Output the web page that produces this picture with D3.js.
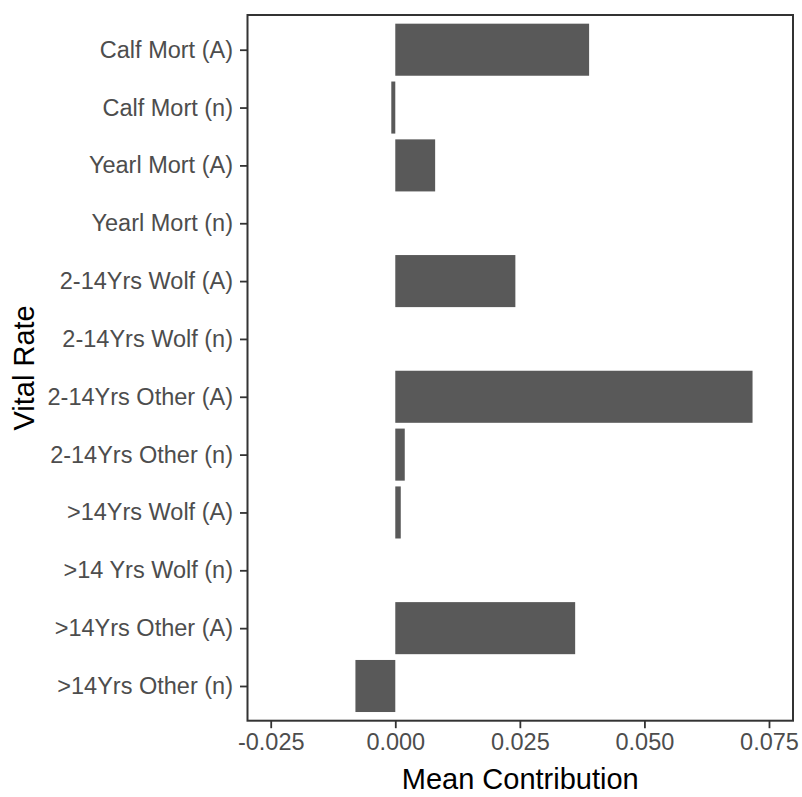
<!DOCTYPE html>
<html>
<head>
<meta charset="utf-8">
<script src="https://cdn.jsdelivr.net/npm/d3@7"></script>
<style>
  html, body { margin: 0; padding: 0; background: #fff; }
  svg { display: block; }
</style>
</head>
<body>
<script>
const categories = [
  "Calf Mort (A)", "Calf Mort (n)", "Yearl Mort (A)", "Yearl Mort (n)",
  "2-14Yrs Wolf (A)", "2-14Yrs Wolf (n)", "2-14Yrs Other (A)", "2-14Yrs Other (n)",
  ">14Yrs Wolf (A)", ">14 Yrs Wolf (n)", ">14Yrs Other (A)", ">14Yrs Other (n)"
];
const values = [
  0.0389, -0.0008, 0.0080, 0.0,
  0.0241, 0.0, 0.0717, 0.0019,
  0.0011, 0.0, 0.0361, -0.0080
];
const xTicks = [-0.025, 0.000, 0.025, 0.050, 0.075];
const xTickLabels = ["-0.025", "0.000", "0.025", "0.050", "0.075"];
const xTitle = "Mean Contribution";
const yTitle = "Vital Rate";

const W = 802, H = 797;
const panel = { left: 247.5, right: 793, top: 15, bottom: 720.7 };

const svg = d3.select("body").append("svg").attr("width", W).attr("height", H);

const x = d3.scaleLinear().domain([-0.02966, 0.07982]).range([panel.left, panel.right]);
const y = d3.scalePoint().domain(categories).range([panel.top, panel.bottom]).padding(0.6);
const barH = y.step() * 0.9;

// bars
svg.append("g").selectAll("rect").data(categories).join("rect")
  .attr("x", (d, i) => x(Math.min(0, values[i])))
  .attr("width", (d, i) => Math.abs(x(values[i]) - x(0)))
  .attr("y", d => y(d) - barH / 2)
  .attr("height", barH)
  .attr("fill", "#595959");

// panel border
svg.append("rect")
  .attr("x", panel.left).attr("y", panel.top)
  .attr("width", panel.right - panel.left).attr("height", panel.bottom - panel.top)
  .attr("fill", "none").attr("stroke", "#333333").attr("stroke-width", 2);

const fontFam = "'Liberation Sans', Arial, sans-serif";

// x axis
const xAxis = svg.append("g")
  .attr("transform", `translate(0,${panel.bottom})`)
  .call(d3.axisBottom(x).tickValues(xTicks)
    .tickFormat((d, i) => xTickLabels[i]).tickSize(7.5).tickPadding(5));
xAxis.select(".domain").remove();
xAxis.selectAll(".tick line").attr("stroke", "#333333").attr("stroke-width", 1.8);
xAxis.selectAll(".tick text")
  .attr("fill", "#4D4D4D").attr("font-size", "23.5px").attr("font-family", fontFam);

// y axis
const yAxis = svg.append("g")
  .attr("transform", `translate(${panel.left},0)`)
  .call(d3.axisLeft(y).tickSize(7.5).tickPadding(7));
yAxis.select(".domain").remove();
yAxis.selectAll(".tick line").attr("stroke", "#333333").attr("stroke-width", 1.8);
yAxis.selectAll(".tick text")
  .attr("fill", "#4D4D4D").attr("font-size", "23.5px").attr("font-family", fontFam);

// titles
svg.append("text")
  .attr("x", (panel.left + panel.right) / 2).attr("y", 789)
  .attr("text-anchor", "middle")
  .attr("font-size", "29px").attr("font-family", fontFam).attr("fill", "#000")
  .text(xTitle);

svg.append("text")
  .attr("transform", `translate(34,${(panel.top + panel.bottom) / 2}) rotate(-90)`)
  .attr("text-anchor", "middle")
  .attr("font-size", "29px").attr("font-family", fontFam).attr("fill", "#000")
  .text(yTitle);
</script>
</body>
</html>
